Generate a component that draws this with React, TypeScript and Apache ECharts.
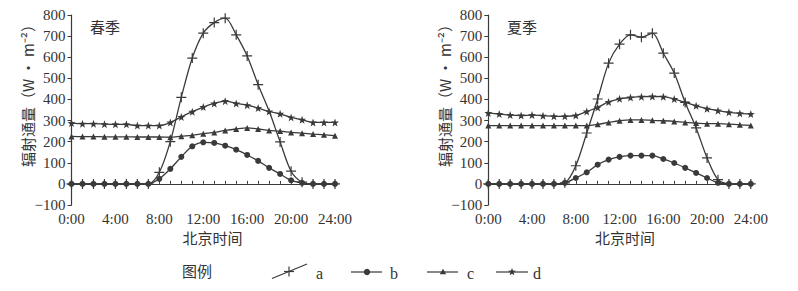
import React, { useEffect, useRef } from "react";
import * as echarts from "echarts";

const hours = [0, 1, 2, 3, 4, 5, 6, 7, 8, 9, 10, 11, 12, 13, 14, 15, 16, 17, 18, 19, 20, 21, 22, 23, 24];

// 春季
const springA = [0, 0, 0, 0, 0, 0, 0, 0, 55, 200, 410, 596, 714, 764, 785, 706, 606, 470, 345, 199, 60, 8, 0, 0, 0];
const springB = [0, 0, 0, 0, 0, 0, 0, 0, 24, 71, 128, 178, 197, 194, 181, 162, 137, 109, 76, 47, 17, 5, 0, 0, 0];
const springC = [225, 224, 224, 223, 223, 223, 222, 222, 222, 221, 226, 230, 238, 244, 253, 260, 265, 260, 253, 250, 244, 240, 236, 233, 228];
const springD = [288, 285, 285, 283, 282, 282, 276, 276, 276, 291, 317, 342, 364, 381, 392, 381, 373, 359, 343, 332, 315, 304, 291, 291, 291];
const springAHidden = [18];

// 夏季
const summerA = [0, 0, 0, 0, 0, 0, 0, 5, 86, 241, 402, 572, 662, 706, 695, 714, 619, 525, 386, 265, 123, 20, 0, 0, 0];
const summerB = [0, 0, 0, 0, 0, 0, 0, 5, 28, 55, 91, 115, 128, 134, 134, 134, 118, 99, 76, 52, 28, 5, 0, 0, 0];
const summerC = [276, 276, 276, 276, 276, 276, 276, 276, 276, 276, 282, 291, 299, 303, 303, 301, 299, 296, 291, 288, 285, 285, 283, 280, 277];
const summerD = [336, 331, 326, 324, 326, 323, 320, 320, 324, 343, 362, 388, 403, 409, 413, 414, 413, 402, 386, 370, 356, 347, 339, 334, 331];

const seasonTitles = ["春季", "夏季"];
const seriesNames = ["a", "b", "c", "d"];
const yTicks = { min: -100, max: 800, interval: 100 };
const xTicks = { min: 0, max: 24, interval: 4 };

const INK = "#3a3a3a";
const TEXT = "#333";
const SERIF = "Liberation Serif";
const CJK = "Noto Sans CJK SC";

const CROSS = "path://M0,4.4H10V5.6H0Z M4.4,0H5.6V10H4.4Z";
const STAR =
  "path://M5,0 L6.18,3.38 L9.76,3.46 L6.9,5.62 L7.94,9.05 L5,7 L2.06,9.05 L3.1,5.62 L0.24,3.46 L3.82,3.38 Z";

const symbols: [string, number][] = [
  [CROSS, 10],
  ["circle", 6],
  ["triangle", 6],
  [STAR, 8],
];

function starPoints(cx: number, cy: number, ro: number, ri: number): number[][] {
  const pts: number[][] = [];
  for (let k = 0; k < 10; k++) {
    const r = k % 2 === 0 ? ro : ri;
    const a = (-90 + k * 36) * (Math.PI / 180);
    pts.push([cx + r * Math.cos(a), cy + r * Math.sin(a)]);
  }
  return pts;
}

function mkSeries(idx: number, values: number[], grid: number, hidden: number[] = []) {
  const [symbol, size] = symbols[idx];
  return {
    type: "line",
    name: seriesNames[idx],
    xAxisIndex: grid,
    yAxisIndex: grid,
    data: hours.map((h, i) =>
      hidden.includes(h) ? { value: [h, values[i]], symbol: "none" } : [h, values[i]]
    ),
    smooth: 0.3,
    symbol,
    symbolSize: size,
    lineStyle: { color: INK, width: 1.3 },
    itemStyle: { color: INK },
    z: idx === 1 ? 4 : 3,
  };
}

const grids = [
  { left: 71.5, top: 15, width: 263.5, height: 190 },
  { left: 488.3, top: 15, width: 262.5, height: 190 },
];

function mkX(i: number) {
  return {
    type: "value",
    gridIndex: i,
    ...xTicks,
    axisLine: { show: true, lineStyle: { color: INK, width: 1.2 } },
    axisTick: { show: true, inside: true, length: 3, lineStyle: { color: INK } },
    minorTick: { show: true, splitNumber: 4, length: 3, lineStyle: { color: INK } },
    splitLine: { show: false },
    axisLabel: {
      margin: 6,
      color: TEXT,
      fontSize: 15,
      fontFamily: SERIF,
      formatter: (v: number) => `${v}:00`,
    },
  };
}

function mkY(i: number) {
  return {
    type: "value",
    gridIndex: i,
    ...yTicks,
    axisLine: { show: true, lineStyle: { color: INK, width: 1.2 } },
    axisTick: { show: true, inside: false, length: 4, lineStyle: { color: INK } },
    splitLine: { show: false },
    axisLabel: {
      margin: 6,
      color: TEXT,
      fontSize: 15,
      fontFamily: SERIF,
      formatter: (v: number) => (v < 0 ? `\u2212${Math.abs(v)}` : `${v}`),
    },
  };
}

function legendGraphics() {
  const items: any[] = [];
  const y = 272;
  items.push({
    type: "text",
    left: 182,
    top: y - 9,
    style: { text: "图例", fontSize: 15, fontFamily: CJK, fill: TEXT },
  });
  // a
  items.push({ type: "line", shape: { x1: 272, y1: 278.5, x2: 307, y2: 264 }, style: { stroke: INK, lineWidth: 1.2 } });
  items.push({ type: "line", shape: { x1: 284, y1: 271.5, x2: 294, y2: 271.5 }, style: { stroke: INK, lineWidth: 1.2 } });
  items.push({ type: "line", shape: { x1: 289, y1: 266.5, x2: 289, y2: 276.5 }, style: { stroke: INK, lineWidth: 1.2 } });
  // b
  items.push({ type: "line", shape: { x1: 351, y1: y, x2: 382, y2: y }, style: { stroke: INK, lineWidth: 1.2 } });
  items.push({ type: "circle", shape: { cx: 367, cy: y, r: 3.2 }, style: { fill: INK } });
  // c
  items.push({ type: "line", shape: { x1: 427, y1: y, x2: 458, y2: y }, style: { stroke: INK, lineWidth: 1.2 } });
  items.push({ type: "polygon", shape: { points: [[443, y - 3.3], [446.2, y + 2.2], [439.8, y + 2.2]] }, style: { fill: INK } });
  // d
  items.push({ type: "line", shape: { x1: 496, y1: y, x2: 528, y2: y }, style: { stroke: INK, lineWidth: 1.2 } });
  items.push({ type: "polygon", shape: { points: starPoints(512, y, 4, 1.7) }, style: { fill: INK } });
  const labelX = [316, 390, 467, 533];
  seriesNames.forEach((n, i) => {
    items.push({
      type: "text",
      x: labelX[i],
      y: y + 1,
      style: { text: n, fontSize: 16, fontFamily: SERIF, fill: TEXT, align: "left", verticalAlign: "middle" },
    });
  });
  return items;
}

function axisNameGraphics() {
  const items: any[] = [];
  const yNameX = [27.5, 444];
  const xNameX = [212.5, 625];
  const titleX = [105, 522];
  for (let i = 0; i < 2; i++) {
    items.push({
      type: "text",
      x: yNameX[i],
      y: 92,
      rotation: Math.PI / 2,
      style: {
        text: "辐射通量（W · m⁻²）",
        fontSize: 15,
        fontFamily: CJK,
        fill: TEXT,
        align: "center",
        verticalAlign: "middle",
      },
    });
    items.push({
      type: "text",
      x: xNameX[i],
      y: 237.5,
      style: { text: "北京时间", fontSize: 15, fontFamily: CJK, fill: TEXT, align: "center", verticalAlign: "middle" },
    });
    items.push({
      type: "text",
      x: titleX[i],
      y: 26,
      style: { text: seasonTitles[i], fontSize: 15, fontFamily: CJK, fill: TEXT, align: "center", verticalAlign: "middle" },
    });
  }
  return items;
}

export default function App() {
  const ref = useRef<HTMLDivElement>(null);
  useEffect(() => {
    const chart = echarts.init(ref.current!, null, { renderer: "svg" });
    chart.setOption({
      animation: false,
      backgroundColor: "#ffffff",
      grid: grids,
      xAxis: [mkX(0), mkX(1)],
      yAxis: [mkY(0), mkY(1)],
      series: [
        mkSeries(0, springA, 0, springAHidden),
        mkSeries(1, springB, 0),
        mkSeries(2, springC, 0),
        mkSeries(3, springD, 0),
        mkSeries(0, summerA, 1),
        mkSeries(1, summerB, 1),
        mkSeries(2, summerC, 1),
        mkSeries(3, summerD, 1),
      ],
      graphic: [...axisNameGraphics(), ...legendGraphics()],
    });
    return () => chart.dispose();
  }, []);
  return (
    <div
      ref={ref}
      style={{ position: "fixed", left: 0, top: 0, width: 798, height: 291, background: "#fff" }}
    />
  );
}
